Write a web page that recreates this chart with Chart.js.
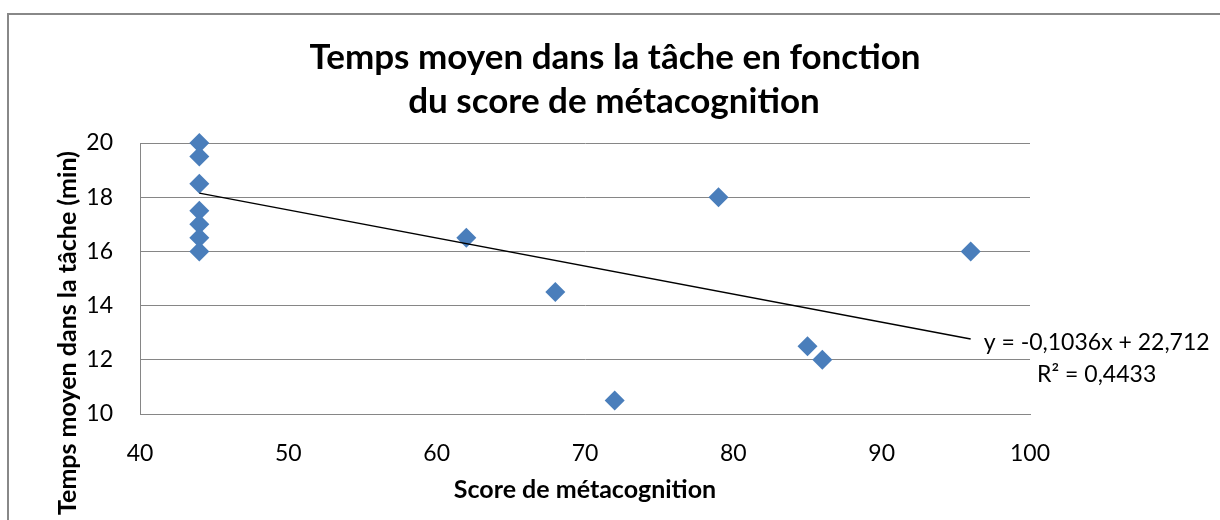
<!DOCTYPE html>
<html>
<head>
<meta charset="utf-8">
<script src="https://cdn.jsdelivr.net/npm/chart.js@4/dist/chart.umd.min.js"></script>
<style>
  html, body { margin: 0; padding: 0; background: #ffffff; overflow: hidden; }
  #wrap { width: 1220px; height: 520px; position: relative; }
</style>
</head>
<body>
<div id="wrap"><canvas id="c" width="1220" height="520"></canvas></div>
<script>
// ---- data ----
const scoreX = [44, 44, 44, 44, 44, 44, 44, 62, 68, 72, 79, 85, 86, 96];
const tempsY = [20, 19.5, 18.5, 17.5, 17, 16.5, 16, 16.5, 14.5, 10.5, 18, 12.5, 12, 16];
const trendX = [44, 96];
const trendY = [18.15, 12.77];
const titleLines = ['Temps moyen dans la tâche en fonction', 'du score de métacognition'];
const xAxisTitle = 'Score de métacognition';
const yAxisTitle = 'Temps moyen dans la tâche (min)';
const equationLines = ['y = -0,1036x + 22,712', 'R² = 0,4433'];
const xRange = [40, 100, 10];
const yRange = [10, 20, 2];

const FONT = 'Lato, "Open Sans", "Liberation Sans", sans-serif';
const GRID = '#868686';

const points = scoreX.map((x, i) => ({ x: x, y: tempsY[i] }));
const trend = trendX.map((x, i) => ({ x: x, y: trendY[i] }));

const decor = {
  id: 'decor',
  beforeDraw(chart) {
    const ctx = chart.ctx;
    ctx.save();
    ctx.fillStyle = '#ffffff';
    ctx.fillRect(0, 0, chart.width, chart.height);
    ctx.fillStyle = '#888888';
    ctx.fillRect(7, 13, 2, chart.height - 13);
    ctx.fillRect(7, 13, chart.width - 7, 2);
    ctx.restore();
  },
  afterDraw(chart) {
    const ctx = chart.ctx;
    const xs = chart.scales.x, ys = chart.scales.y;
    ctx.save();
    ctx.fillStyle = '#000000';
    // main title
    ctx.font = 'bold 35px ' + FONT;
    ctx.textAlign = 'center';
    ctx.textBaseline = 'alphabetic';
    ctx.fillText(titleLines[0], 615, 69);
    ctx.fillText(titleLines[1], 614, 113);
    // y axis title
    ctx.save();
    ctx.translate(68, 333);
    ctx.rotate(-Math.PI / 2);
    ctx.font = 'bold 25px ' + FONT;
    ctx.textAlign = 'center';
    ctx.textBaseline = 'middle';
    ctx.fillText(yAxisTitle, 0, 0);
    ctx.restore();
    // trendline equation
    const ex = xs.getPixelForValue(trendX[1]);
    const ey = ys.getPixelForValue(trendY[1]);
    ctx.font = '23px ' + FONT;
    ctx.textAlign = 'center';
    ctx.textBaseline = 'middle';
    ctx.fillText(equationLines[0], ex + 126, ey + 4);
    ctx.fillText(equationLines[1], ex + 126, ey + 36);
    ctx.restore();
  }
};

new Chart(document.getElementById('c'), {
  type: 'scatter',
  data: {
    datasets: [
      {
        label: 'Temps',
        data: points,
        pointStyle: 'rectRot',
        pointRadius: 10,
        pointHoverRadius: 10,
        backgroundColor: '#4a7ebb',
        borderColor: '#4a7ebb',
        borderWidth: 0,
        clip: false,
        order: 1
      },
      {
        type: 'line',
        label: 'Tendance',
        data: trend,
        showLine: true,
        borderColor: '#000000',
        borderWidth: 1.5,
        pointRadius: 0,
        fill: false,
        clip: false,
        order: 0
      }
    ]
  },
  options: {
    responsive: false,
    animation: false,
    devicePixelRatio: 1,
    layout: { padding: { left: 0, right: 190, top: 143, bottom: 0 } },
    plugins: {
      legend: { display: false },
      tooltip: { enabled: false },
      title: { display: false }
    },
    scales: {
      x: {
        type: 'linear',
        min: xRange[0], max: xRange[1],
        ticks: { stepSize: xRange[2], color: '#000', padding: 26, font: { family: FONT, size: 23 } },
        grid: { display: false, drawTicks: false },
        border: { display: true, color: GRID, width: 1 },
        title: { display: true, text: xAxisTitle, color: '#000', font: { family: FONT, size: 25, weight: 'bold' }, padding: { top: 0, bottom: 15 } },
        afterFit(scale) { scale.height = 106; }
      },
      y: {
        type: 'linear',
        min: yRange[0], max: yRange[1],
        ticks: { stepSize: yRange[2], color: '#000', padding: 27, font: { family: FONT, size: 23 } },
        grid: { display: true, color: GRID, lineWidth: 1, drawTicks: false },
        border: { display: true, color: GRID, width: 1 },
        afterFit(scale) { scale.width = 140; }
      }
    }
  },
  plugins: [decor]
});
</script>
</body>
</html>
